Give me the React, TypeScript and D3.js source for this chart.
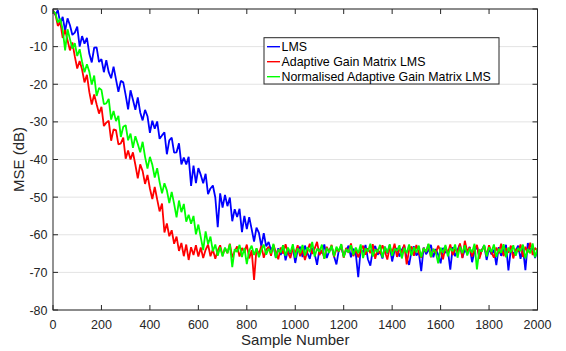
import React, { useEffect, useRef } from "react";
import * as d3 from "d3";

const xTicks = [0, 200, 400, 600, 800, 1000, 1200, 1400, 1600, 1800, 2000];
const yTicks = [0, -10, -20, -30, -40, -50, -60, -70, -80];
const seriesNames = ["LMS", "Adaptive Gain Matrix LMS", "Normalised Adaptive Gain Matrix LMS"];
const seriesColors = ["#0000ff", "#ff0000", "#00ff00"];
// sample numbers for every 10th sample
const sampleIdx = d3.range(0, 2001, 10);

const lmsMSE = [
  -0.4, -1.6, -0.3, -3.8, -2.1, -5.8, -2.5, -4.3, -6.9, -6.3,
  -4.7, -10.0, -7.2, -9.2, -7.7, -11.9, -14.2, -10.3, -10.2, -14.1,
  -13.3, -16.8, -13.6, -16.8, -18.4, -15.3, -18.7, -22.0, -19.1, -19.5,
  -22.9, -26.7, -21.6, -24.1, -26.8, -23.5, -27.5, -29.6, -26.8, -28.5,
  -32.9, -29.7, -31.8, -29.9, -34.5, -33.6, -32.8, -38.6, -34.9, -34.2,
  -38.2, -38.1, -35.7, -41.3, -39.5, -41.3, -39.3, -47.0, -41.6, -46.3,
  -42.3, -44.1, -46.3, -43.8, -49.2, -47.7, -46.9, -50.1, -58.0, -49.0,
  -52.8, -49.4, -52.4, -50.1, -56.4, -53.2, -55.3, -53.1, -59.3, -55.0,
  -58.5, -55.3, -58.5, -61.8, -58.1, -59.5, -63.1, -59.6, -63.1, -61.9,
  -64.1, -63.0, -66.1, -63.6, -65.4, -62.8, -66.8, -64.0, -65.2, -63.3,
  -67.5, -64.1, -63.2, -65.9, -62.9, -64.8, -66.4, -63.5, -65.0, -68.0,
  -63.8, -64.9, -62.6, -66.2, -64.3, -63.1, -65.7, -67.9, -64.0, -63.4,
  -65.6, -64.2, -62.9, -66.0, -63.7, -65.1, -71.3, -63.9, -64.7, -62.7,
  -66.5, -68.2, -64.1, -63.0, -65.3, -64.4, -66.3, -63.2, -65.0, -62.8,
  -67.1, -64.2, -63.6, -65.8, -64.0, -62.9, -66.2, -68.0, -64.3, -63.1,
  -65.5, -64.6, -69.7, -63.4, -65.2, -64.1, -62.7, -66.0, -63.8, -65.3,
  -67.6, -63.5, -64.8, -64.2, -69.3, -63.3, -65.7, -64.0, -62.5, -66.1,
  -63.9, -65.0, -63.2, -67.3, -64.4, -63.0, -65.9, -64.1, -62.8, -66.7,
  -63.6, -65.2, -64.0, -68.1, -63.3, -65.6, -64.2, -62.7, -69.5, -63.8,
  -65.1, -64.3, -62.9, -66.4, -63.5, -69.4, -62.2, -64.0, -63.4, -66.2,
  -63.9,
];

const agmMSE = [
  -0.4, -1.4, -4.5, -3.5, -7.7, -5.6, -8.3, -11.0, -8.9, -12.6,
  -15.8, -13.8, -16.1, -19.5, -17.5, -22.1, -25.4, -22.7, -25.3, -27.8,
  -26.0, -31.1, -30.2, -29.7, -35.0, -32.0, -32.2, -36.0, -35.7, -34.2,
  -39.8, -37.6, -40.0, -38.1, -41.4, -45.0, -41.3, -43.1, -46.5, -44.1,
  -47.7, -50.5, -47.3, -50.6, -53.8, -51.7, -59.4, -57.0, -60.4, -58.8,
  -62.4, -60.5, -64.3, -62.2, -65.7, -62.6, -66.7, -63.3, -65.4, -62.8,
  -65.8, -63.4, -66.2, -64.0, -62.6, -65.7, -63.9, -66.4, -64.2, -62.8,
  -65.5, -63.6, -64.9, -62.4, -66.0, -64.4, -63.1, -65.8, -63.5, -64.7,
  -62.6, -66.3, -64.1, -72.0, -63.7, -65.2, -62.9, -66.1, -64.0, -63.2,
  -65.6, -62.7, -64.6, -66.5, -63.4, -65.0, -62.5, -64.8, -66.2, -63.6,
  -64.9, -62.8, -65.7, -63.9, -66.7, -64.3, -62.4, -65.1, -63.7, -61.9,
  -65.4, -64.0, -66.3, -63.2, -64.6, -62.7, -65.9, -63.8, -64.5, -62.6,
  -66.1, -63.5, -64.8, -62.3, -65.7, -63.9, -66.0, -64.2, -62.9, -65.3,
  -63.6, -64.9, -62.5, -66.4, -63.8, -65.1, -62.8, -64.4, -66.6, -63.3,
  -64.7, -62.4, -65.9, -63.7, -64.9, -62.6, -67.9, -64.0, -63.1, -65.6,
  -62.7, -64.8, -66.1, -63.5, -64.6, -62.5, -66.0, -63.8, -65.0, -62.9,
  -64.4, -66.5, -63.2, -64.9, -62.6, -65.4, -63.7, -64.8, -62.3, -66.2,
  -61.6, -64.5, -63.3, -65.8, -63.9, -62.7, -66.4, -64.1, -63.0, -65.5,
  -62.8, -64.7, -66.1, -63.4, -64.9, -62.4, -65.7, -63.6, -64.8, -62.9,
  -66.3, -63.8, -64.5, -62.6, -65.9, -63.2, -64.7, -62.1, -65.4, -63.5,
  -64.3,
];

const nagmMSE = [
  -0.6, -1.1, -3.6, -2.6, -5.5, -11.0, -5.4, -8.0, -10.5, -9.1,
  -12.5, -10.7, -14.0, -16.8, -14.7, -16.7, -20.1, -17.7, -23.1, -21.0,
  -21.5, -25.3, -25.1, -23.9, -29.4, -27.1, -29.8, -28.4, -34.0, -31.3,
  -30.9, -34.9, -33.1, -36.9, -33.8, -35.9, -38.1, -35.3, -39.3, -42.4,
  -39.3, -41.4, -44.8, -42.3, -46.0, -49.0, -46.3, -48.2, -51.6, -48.6,
  -51.8, -55.4, -50.9, -54.0, -51.8, -56.5, -54.7, -57.1, -55.0, -59.9,
  -57.3, -60.7, -64.1, -59.1, -62.5, -60.5, -64.4, -62.6, -65.6, -63.3,
  -65.8, -63.4, -64.9, -62.5, -68.6, -63.8, -64.6, -62.7, -65.9, -63.5,
  -67.8, -64.2, -62.9, -65.4, -63.6, -66.0, -64.1, -62.6, -65.3, -63.7,
  -64.9, -62.4, -66.2, -63.9, -64.7, -62.8, -65.6, -63.4, -64.8, -62.5,
  -66.1, -63.6, -64.9, -62.7, -65.5, -63.3, -64.6, -61.9, -65.8, -63.7,
  -64.5, -62.6, -66.4, -63.5, -64.8, -62.9, -65.7, -63.2, -64.4, -62.5,
  -66.0, -63.8, -64.7, -62.8, -65.4, -63.4, -64.9, -62.6, -66.2, -63.6,
  -64.5, -62.4, -65.8, -63.9, -64.6, -62.7, -66.1, -63.2, -64.8, -62.5,
  -65.6, -63.7, -64.3, -62.8, -66.3, -63.5, -64.9, -62.6, -65.5, -63.3,
  -64.7, -62.9, -66.0, -63.6, -64.5, -62.4, -65.9, -63.8, -64.6, -67.6,
  -63.4, -64.8, -62.7, -65.7, -63.5, -64.4, -62.6, -66.1, -63.2, -64.9,
  -62.8, -65.5, -63.6, -64.7, -62.4, -69.2, -63.9, -64.5, -62.7, -65.8,
  -63.3, -64.6, -62.6, -65.9, -63.7, -64.8, -62.5, -66.0, -63.4, -64.7,
  -62.8, -65.6, -63.5, -64.4, -62.6, -66.3, -63.8, -64.9, -62.3, -66.0,
  -63.6,
];

const allSeries = [lmsMSE, agmMSE, nagmMSE];

const W = 566;
const H = 351;
const M = { left: 53, right: 537.5, top: 9, bottom: 310 };
const AX = "#262626";
const FONT = "'Liberation Sans', Arial, Helvetica, sans-serif";

export default function App() {
  const ref = useRef<SVGSVGElement | null>(null);

  useEffect(() => {
    document.body.style.margin = "0";
    const svg = d3.select(ref.current);
    svg.selectAll("*").remove();

    const x = d3.scaleLinear().domain([0, 2000]).range([M.left, M.right]);
    const y = d3.scaleLinear().domain([-80, 0]).range([M.bottom, M.top]);

    svg.append("rect").attr("width", W).attr("height", H).attr("fill", "#fff");

    // grid (horizontal only)
    svg
      .append("g")
      .selectAll("line")
      .data(yTicks)
      .join("line")
      .attr("x1", M.left)
      .attr("x2", M.right)
      .attr("y1", (d) => y(d))
      .attr("y2", (d) => y(d))
      .attr("stroke", "#e3e3e3")
      .attr("stroke-width", 1);

    svg
      .append("clipPath")
      .attr("id", "plotclip")
      .append("rect")
      .attr("x", M.left)
      .attr("y", M.top)
      .attr("width", M.right - M.left)
      .attr("height", M.bottom - M.top);

    const line = d3
      .line<number>()
      .x((_, i) => x(sampleIdx[i]))
      .y((d) => y(d));

    const g = svg.append("g").attr("clip-path", "url(#plotclip)");
    allSeries.forEach((s, k) => {
      g.append("path")
        .attr("d", line(s) as string)
        .attr("fill", "none")
        .attr("stroke", seriesColors[k])
        .attr("stroke-width", 1.8)
        .attr("stroke-linejoin", "bevel");
    });

    // axes box
    const axG = svg.append("g").attr("stroke", AX).attr("stroke-width", 1).attr("fill", "none");
    axG
      .append("rect")
      .attr("x", M.left)
      .attr("y", M.top)
      .attr("width", M.right - M.left)
      .attr("height", M.bottom - M.top);

    const tl = 5;
    xTicks.forEach((t) => {
      const px = x(t);
      axG.append("line").attr("x1", px).attr("x2", px).attr("y1", M.bottom).attr("y2", M.bottom - tl);
      axG.append("line").attr("x1", px).attr("x2", px).attr("y1", M.top).attr("y2", M.top + tl);
    });
    yTicks.forEach((t) => {
      const py = y(t);
      axG.append("line").attr("x1", M.left).attr("x2", M.left + tl).attr("y1", py).attr("y2", py);
      axG.append("line").attr("x1", M.right).attr("x2", M.right - tl).attr("y1", py).attr("y2", py);
    });

    // tick labels
    svg
      .append("g")
      .selectAll("text")
      .data(xTicks)
      .join("text")
      .attr("x", (d) => x(d))
      .attr("y", 328.5)
      .attr("text-anchor", "middle")
      .attr("font-family", FONT)
      .attr("font-size", 12.5)
      .attr("fill", AX)
      .text((d) => String(d));

    svg
      .append("g")
      .selectAll("text")
      .data(yTicks)
      .join("text")
      .attr("x", 47.5)
      .attr("y", (d) => y(d) + 4.5)
      .attr("text-anchor", "end")
      .attr("font-family", FONT)
      .attr("font-size", 12.5)
      .attr("fill", AX)
      .text((d) => (d < 0 ? "-" + Math.abs(d) : String(d)));

    // axis labels
    svg
      .append("text")
      .attr("x", (M.left + M.right) / 2)
      .attr("y", 345)
      .attr("text-anchor", "middle")
      .attr("font-family", FONT)
      .attr("font-size", 15)
      .attr("fill", AX)
      .text("Sample Number");

    svg
      .append("text")
      .attr("transform", `translate(24, ${(M.top + M.bottom) / 2}) rotate(-90)`)
      .attr("text-anchor", "middle")
      .attr("font-family", FONT)
      .attr("font-size", 15)
      .attr("fill", AX)
      .text("MSE (dB)");

    // legend
    const lg = svg.append("g");
    lg.append("rect")
      .attr("x", 264)
      .attr("y", 37.7)
      .attr("width", 235)
      .attr("height", 46.3)
      .attr("fill", "#fff")
      .attr("stroke", AX)
      .attr("stroke-width", 1);
    seriesNames.forEach((name, k) => {
      const cy = 46.7 + k * 15;
      lg.append("line")
        .attr("x1", 267)
        .attr("x2", 280)
        .attr("y1", cy)
        .attr("y2", cy)
        .attr("stroke", seriesColors[k])
        .attr("stroke-width", 1.4);
      lg.append("text")
        .attr("x", 281.5)
        .attr("y", cy + 4.4)
        .attr("font-family", FONT)
        .attr("font-size", 12.4)
        .attr("fill", "#000")
        .text(name);
    });
  }, []);

  return (
    <svg
      ref={ref}
      width={W}
      height={H}
      style={{ position: "absolute", left: 0, top: 0, display: "block" }}
    />
  );
}
